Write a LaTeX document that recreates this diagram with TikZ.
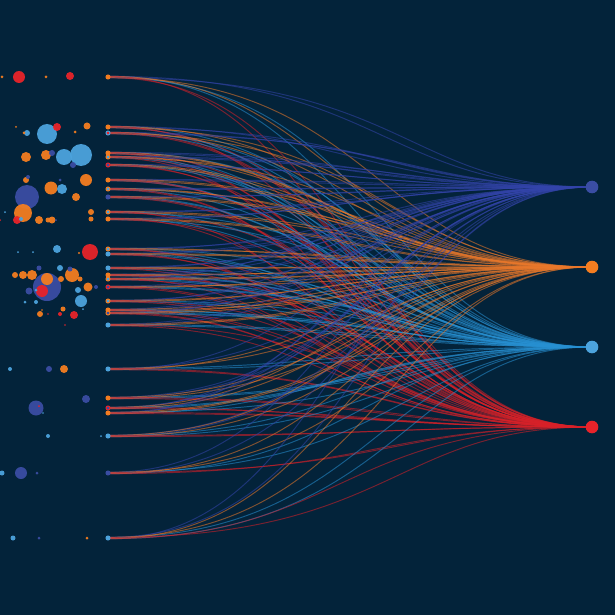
\documentclass[tikz,border=0pt]{standalone}
\usetikzlibrary{calc}
\definecolor{bg}{HTML}{03233A}
\definecolor{cb}{HTML}{3A4DA3}
\definecolor{co}{HTML}{F47D20}
\definecolor{cl}{HTML}{4CA3DD}
\definecolor{cr}{HTML}{E8232A}
\definecolor{lb}{HTML}{3344AA}
\definecolor{lo}{HTML}{E9782A}
\definecolor{ll}{HTML}{2790D2}
\definecolor{lr}{HTML}{D82028}
\tikzset{
  flow/.style={line width=0.48mm, draw opacity=0.55},
  bubble/.style={fill opacity=0.95},
  enddot/.style={line width=0.5mm},
  target/.style={circle, minimum size=6.3mm, inner sep=0pt}
}

\begin{document}
\begin{tikzpicture}[x=0.5mm, y=-0.5mm]
  \useasboundingbox (0,0) rectangle (615,615);
  \fill[bg] (-5,-5) rectangle (620,620);
  \pgfmathsetseed{11}

  \foreach \j/\ty in {1/187, 2/267, 3/347, 4/427}
    \coordinate (t\j) at (592,\ty);
  \foreach \i/\y in {1/77, 2/127, 3/133, 4/153, 5/157, 6/165, 7/180, 8/189,
      9/197, 10/212, 11/219, 12/249, 13/254, 14/268, 15/275, 16/279,
      17/287, 18/301, 19/310, 20/313, 21/325, 22/369, 23/398, 24/408,
      25/413, 26/436, 27/473, 28/538}
    \coordinate (s\i) at (108,\y);

  % flows
  \foreach \i/\y in {1/77, 2/127, 3/133, 4/153, 5/157, 6/165, 7/180, 8/189,
      9/197, 10/212, 11/219, 12/249, 13/254, 14/268, 15/275, 16/279,
      17/287, 18/301, 19/310, 20/313, 21/325, 22/369, 23/398, 24/408,
      25/413, 26/436, 27/473, 28/538}
  {
    \foreach \j/\ty/\c in {1/187/lb, 3/347/ll, 2/267/lo, 4/427/lr}
    {
      \pgfmathsetmacro\cxa{330+rnd*80}
      \pgfmathsetmacro\cxb{330+rnd*80}
      \draw[flow, \c] ([yshift=1pt]s\i) .. controls (\cxa,\y) and (\cxa,\ty) .. (t\j);
      \draw[flow, \c] ([yshift=-1pt]s\i) .. controls (\cxb,\y) and (\cxb,\ty) .. (t\j);
    }
  }

  % bubbles
  \foreach \x/\y/\r/\c in {47/287/14/cb, 27/197/12/cb, 81/155/11/cl, 47/134/10/cl,
      23/213/9/co, 90/252/8/cr, 64/157/8/cl, 36/408/7.5/cb, 72/275/7/co,
      51/188/6.5/co, 86/180/6/co, 21/473/6/cb, 19/77/6/cr, 47/279/6/co,
      42/291/6/cr, 81/301/6/cl, 26/157/5/co, 46/155/5/co, 62/189/5/cl,
      32/275/5/co, 88/287/4.5/co, 86/399/4/cb, 57/249/4/cl, 74/315/4/cr,
      64/369/4/co, 70/76/4/cr, 57/127/4/cr, 76/197/4/co, 39/220/4/co,
      17/220/4/cr, 23/275/4/co, 52/220/3.5/co, 87/126/3.5/co, 29/291/3.5/cb,
      27/133/3/cl, 52/153/3/cb, 73/165/3/cb, 91/212/3/co, 15/275/3/co,
      61/279/3/co, 60/268/3/cl, 78/290/3/cl, 40/314/3/co, 49/369/3/cb,
      48/220/2.5/co, 91/219/2.5/co, 39/268/2.5/cb, 70/269/2.5/cb, 80/279/2.5/co,
      63/309/2.5/co, 10/369/2/cl, 48/436/2/cl, 2/473/2.5/cl, 13/538/2.5/cl,
      96/287/2/cb, 36/302/2/cl, 60/314/2/cr, 21/219/2/cl, 26/180/3/co,
      28/177/2/cb, 2/77/1.5/co, 46/77/1.5/co, 16/127/1/co, 75/132/1.5/co,
      60/180/1.5/cb, 5/212/1/cl, 0/220/1/cr, 56/220/1/cb, 18/252/1/cl,
      33/252/1/cl, 79/253/1.2/co, 25/302/1.5/cl, 83/309/1/cl, 48/314/0.8/cr,
      65/325/0.8/cr, 42/310/0.8/co, 37/473/1.5/cb, 39/538/1.5/cb, 87/538/1.5/co,
      101/436/1/cl, 39/406/1/cr, 43/413/0.8/cl, 24/133/1.5/co, 36/290/1.5/cl}
    \fill[bubble, \c] (\x,\y) circle[radius={\r*0.5mm}];

  % end dots
  \foreach \i/\f/\o in {1/co/co, 2/co/co, 3/cr/cl, 4/co/co, 5/cl/co, 6/cb/cr,
      7/co/co, 8/cl/co, 9/cb/cb, 10/cl/co, 11/co/co, 12/cl/co, 13/cl/cl,
      14/cl/cl, 15/co/co, 16/cl/co, 17/cb/cr, 18/cl/co, 19/co/co, 20/cb/co,
      21/cl/cl, 22/cl/cl, 23/co/co, 24/cb/cr, 25/co/co, 26/cl/cl, 27/cb/cb,
      28/cl/cl}
    \filldraw[enddot, fill=\f, draw=\o] (s\i) circle[radius=1mm];

  \node[target, fill=cb] (tb) at (t1) {};
  \node[target, fill=co] (to) at (t2) {};
  \node[target, fill=cl] (tl) at (t3) {};
  \node[target, fill=cr] (tr) at (t4) {};
\end{tikzpicture}
\end{document}
